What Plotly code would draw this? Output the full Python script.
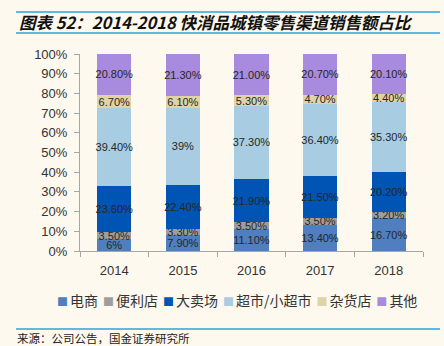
import plotly.graph_objects as go

years = ["2014", "2015", "2016", "2017", "2018"]
series_names = ["电商", "便利店", "大卖场", "超市/小超市", "杂货店", "其他"]
ecommerce = [6.0, 7.9, 11.1, 13.4, 16.7]
convenience = [3.5, 3.3, 3.5, 3.5, 3.2]
hypermarket = [23.6, 22.4, 21.9, 21.5, 20.2]
supermarket = [39.4, 39.0, 37.3, 36.4, 35.3]
grocery = [6.7, 6.1, 5.3, 4.7, 4.4]
others = [20.8, 21.3, 21.0, 20.7, 20.1]
labels_ecommerce = ["6%", "7.90%", "11.10%", "13.40%", "16.70%"]
labels_convenience = ["3.50%", "3.30%", "3.50%", "3.50%", "3.20%"]
labels_hypermarket = ["23.60%", "22.40%", "21.90%", "21.50%", "20.20%"]
labels_supermarket = ["39.40%", "39%", "37.30%", "36.40%", "35.30%"]
labels_grocery = ["6.70%", "6.10%", "5.30%", "4.70%", "4.40%"]
labels_others = ["20.80%", "21.30%", "21.00%", "20.70%", "20.10%"]
y_ticks = [0, 10, 20, 30, 40, 50, 60, 70, 80, 90, 100]
y_tick_labels = ["0%", "10%", "20%", "30%", "40%", "50%", "60%", "70%", "80%", "90%", "100%"]

values = [ecommerce, convenience, hypermarket, supermarket, grocery, others]
labels = [labels_ecommerce, labels_convenience, labels_hypermarket,
          labels_supermarket, labels_grocery, labels_others]
colors = ["#4F7FBE", "#9E9E9E", "#0054B4", "#A8CDE3", "#E0D3A6", "#A88BDE"]

BG = "#FDF9EE"
label_font = dict(family="Liberation Sans", size=11, color="#262626")
fig = go.Figure()
for name, vals, labs, col in zip(series_names, values, labels, colors):
    fig.add_trace(go.Bar(
        x=years, y=vals, name=name, text=labs,
        marker=dict(color=col, line=dict(width=0)),
        textposition="inside", insidetextanchor="middle",
        constraintext="none", textangle=0,
        textfont=label_font, insidetextfont=label_font,
        width=0.5, showlegend=False,
    ))

fig.update_layout(
    barmode="stack", barnorm="percent",
    width=444, height=346,
    margin=dict(l=80, r=21, t=54, b=95),
    paper_bgcolor=BG, plot_bgcolor=BG,
    font=dict(family="Liberation Sans", color="#333333"),
)
fig.update_yaxes(
    range=[0, 100], tickmode="array", tickvals=y_ticks, ticktext=y_tick_labels,
    showgrid=False, zeroline=False,
    showline=True, linecolor="#A6A6A6", linewidth=1,
    ticks="outside", ticklen=5, tickcolor="#A6A6A6",
    tickfont=dict(family="Liberation Sans", size=13, color="#333333"),
    ticklabelstandoff=4,
)
fig.update_xaxes(
    showgrid=False, showline=True, linecolor="#A6A6A6", linewidth=1,
    ticks="outside", ticklen=5, tickcolor="#A6A6A6", tickson="boundaries",
    tickfont=dict(family="Liberation Sans", size=13, color="#333333"),
    ticklabelstandoff=7,
)

# legend drawn as a compact text row
parts = []
for name, col in zip(series_names, colors):
    parts.append(f'<span style="color:{col};font-size:11px">■</span>'
                 f'<span style="font-size:9px"> </span>{name}')
legend_text = '<span style="font-size:22px"> </span>'.join(parts)
fig.add_annotation(
    text=legend_text, xref="paper", yref="paper",
    x=(237 - 80) / 343, y=(251 - 296) / 197, xanchor="center", yanchor="middle",
    showarrow=False,
    font=dict(family="Noto Sans CJK SC", size=14, color="#333333"),
)

# title and source with rules
def px_x(px):
    return (px - 80) / 343

def px_y(py):
    return (251 - py) / 197

fig.add_annotation(
    text="<b><i>图表 52：2014-2018 快消品城镇零售渠道销售额占比</i></b>",
    xref="paper", yref="paper", x=px_x(17), y=px_y(22),
    xanchor="left", yanchor="middle", showarrow=False,
    font=dict(family="Noto Sans CJK SC", size=16.5, color="#111111"),
)
fig.add_annotation(
    text="来源：公司公告，国金证券研究所",
    xref="paper", yref="paper", x=px_x(16), y=px_y(338),
    xanchor="left", yanchor="middle", showarrow=False, borderpad=0,
    font=dict(family="Noto Sans CJK SC", size=11.5, color="#222222"),
)
for py in (12, 33, 329):
    fig.add_shape(type="line", xref="paper", yref="paper",
                  x0=px_x(16), x1=px_x(440), y0=px_y(py), y1=px_y(py),
                  line=dict(color="#2BA3DD", width=1.5))

fig.write_html("out.html")
